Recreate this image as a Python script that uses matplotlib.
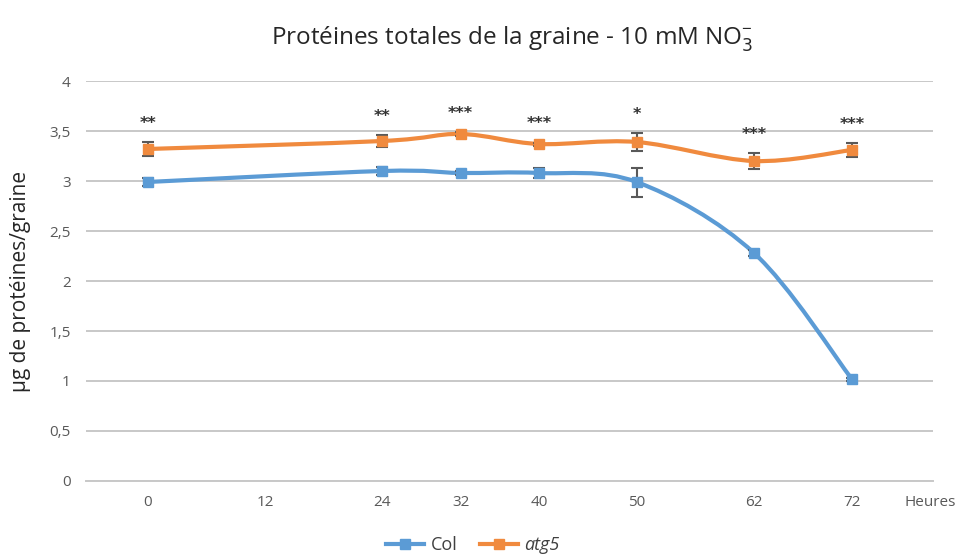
import numpy as np
import matplotlib.pyplot as plt
from matplotlib.path import Path
from matplotlib.patches import PathPatch
from matplotlib.lines import Line2D

plt.rcParams['font.family'] = ['Open Sans', 'DejaVu Sans']

# hours after imbibition
heures = [0, 24, 32, 40, 50, 62, 72]
tick_pos = [0, 12, 24, 32, 40, 50, 62, 72, 80]
tick_lab = ['0', '12', '24', '32', '40', '50', '62', '72', 'Heures']

col_moy = [2.99, 3.10, 3.08, 3.08, 2.99, 2.28, 1.02]
col_err = [0.04, 0.04, 0.02, 0.05, 0.145, 0.03, 0.015]
atg5_moy = [3.32, 3.40, 3.47, 3.37, 3.39, 3.20, 3.31]
atg5_err = [0.07, 0.06, 0.02, 0.015, 0.09, 0.08, 0.07]
etoiles = ['**', '**', '***', '***', '*', '***', '***']

bleu = '#5B9BD5'
orange = '#F08A3E'
gris = '#595959'


def courbe_lissee(x, y):
    # Catmull-Rom passed through cubic Bezier segments (Excel style smoothing)
    p = np.column_stack([x, y]).astype(float)
    verts = [p[0]]
    codes = [Path.MOVETO]
    n = len(p)
    for i in range(n - 1):
        p0 = p[i - 1] if i > 0 else p[i]
        p3 = p[i + 2] if i + 2 < n else p[i + 1]
        c1 = p[i] + (p[i + 1] - p0) / 6
        c2 = p[i + 1] - (p3 - p[i]) / 6
        verts += [c1, c2, p[i + 1]]
        codes += [Path.CURVE4] * 3
    return Path(verts, codes)


fig = plt.figure(figsize=(9.59, 5.55), dpi=100)
ax = fig.add_axes([86 / 959, 1 - 481 / 555, 847 / 959, 400 / 555])

for y, err, c in [(col_moy, col_err, bleu), (atg5_moy, atg5_err, orange)]:
    ax.add_patch(PathPatch(courbe_lissee(heures, y), facecolor='none',
                           edgecolor=c, lw=3, capstyle='round', zorder=3))
    ax.errorbar(heures, y, yerr=err, fmt='none', ecolor=gris, elinewidth=1.5,
                capsize=4.5, capthick=1.5, zorder=4)
    ax.plot(heures, y, ls='none', marker='s', ms=6.5, color=c, zorder=5)

# significance stars above the atg5 error bars
for h, m, e, s in zip(heures, atg5_moy, atg5_err, etoiles):
    ax.text(h, m + e + 0.19, s, ha='center', va='center', fontsize=11.5,
            fontweight='bold', color='#333333', family='DejaVu Sans')

ax.set_xlim(-6.3, 80.3)
ax.set_ylim(0, 4)
ax.set_xticks(tick_pos)
ax.set_xticklabels(tick_lab)
ax.set_yticks(np.arange(0, 4.01, 0.5))
ax.set_yticklabels(['0', '0,5', '1', '1,5', '2', '2,5', '3', '3,5', '4'])
ax.tick_params(length=0, labelsize=11, labelcolor=gris)
ax.tick_params(axis='y', pad=11)
ax.tick_params(axis='x', pad=10)
ax.grid(axis='y', color='#C8C8C8', lw=1.4)
ax.set_axisbelow(True)
for sp in ['top', 'right', 'left']:
    ax.spines[sp].set_visible(False)
ax.spines['bottom'].set_color('#C8C8C8')
ax.spines['bottom'].set_linewidth(1.4)

ax.set_ylabel('µg de protéines/graine', fontsize=15, color='#262626', labelpad=13)
fig.text(0.534, 0.93, 'Protéines totales de la graine - 10 mM NO$_3^{\\mathregular{-}}$',
         ha='center', va='center', fontsize=17.5, color='#262626')

poignees = [Line2D([], [], color=bleu, lw=3, marker='s', ms=6.5),
            Line2D([], [], color=orange, lw=3, marker='s', ms=6.5)]
leg = fig.legend(poignees, ['Col', 'atg5'], loc='center', ncol=2,
                 bbox_to_anchor=(0.493, 0.018), frameon=False, fontsize=13,
                 handlelength=2.1, columnspacing=1.25, handletextpad=0.35)
for t in leg.get_texts():
    t.set_color('#404040')
leg.get_texts()[1].set_style('italic')

fig.savefig('out.png', dpi=100)
